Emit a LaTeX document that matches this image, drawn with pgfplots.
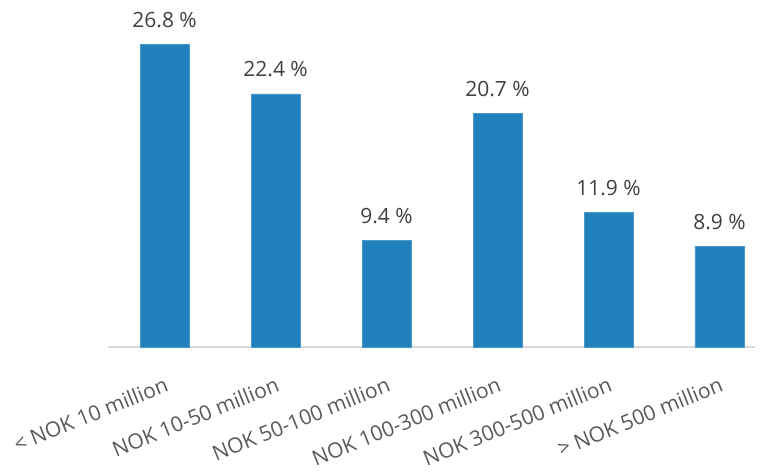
\documentclass[border=0pt]{standalone}
\usepackage{pgfplots}
\pgfplotsset{compat=1.18}
\usepackage{fontspec}
\setmainfont{Open Sans}
\definecolor{barblue}{RGB}{31,128,189}
\definecolor{lbl}{RGB}{89,89,89}
\definecolor{vallbl}{RGB}{64,64,64}
\definecolor{axisgrey}{RGB}{217,217,217}
\begin{document}
\begin{tikzpicture}[x=1pt,y=1pt]
\path[use as bounding box] (0,0) rectangle (767,475);
\begin{axis}[
  at={(108pt,128pt)}, anchor=south west,
  scale only axis, width=647pt, height=339pt,
  xmin=-0.51, xmax=5.32, ymin=0, ymax=30,
  hide y axis,
  axis x line*=bottom,
  x axis line style={draw=axisgrey, line width=1.3pt, -},
  xtick={0,1,2,3,4,5},
  xticklabels={{< NOK 10 million},{NOK 10-50 million},{NOK 50-100 million},{NOK 100-300 million},{NOK 300-500 million},{> NOK 500 million}},
  major tick length=0pt,
  xticklabel style={xshift=-1pt, yshift=-29pt, rotate=22, anchor=north east, font=\fontsize{21}{25}\selectfont, text=lbl, inner sep=0pt},
  ybar, bar width=49pt,
  clip=false,
  /pgf/number format/assume math mode=true,
  nodes near coords={\pgfmathprintnumber[fixed,precision=1,fixed zerofill,assume math mode=true]{\pgfplotspointmeta}~\%},
  every node near coord/.append style={font=\fontsize{21}{25}\selectfont, text=vallbl, anchor=south, yshift=13pt},
]
\addplot[fill=barblue, draw=barblue!80!white, line width=0.6pt] coordinates {(0,26.8) (1,22.4) (2,9.4) (3,20.7) (4,11.9) (5,8.9)};
\end{axis}
\end{tikzpicture}
\end{document}
